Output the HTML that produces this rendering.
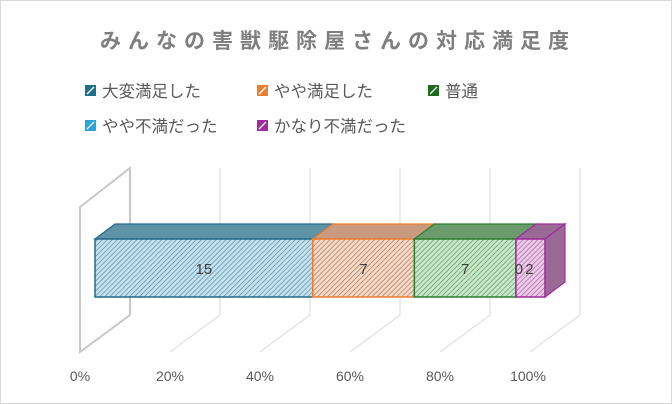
<!DOCTYPE html>
<html><head><meta charset="utf-8"><style>
body{margin:0;background:#fff}
svg{display:block;font-family:"Liberation Sans","Noto Sans CJK JP",sans-serif}
</style></head><body>
<svg width="672" height="404" viewBox="0 0 672 404">
<defs>
<pattern id="hatch" width="3.5" height="3.5" patternUnits="userSpaceOnUse" patternTransform="rotate(45)">
<line x1="0" y1="0" x2="0" y2="3.5" stroke="#000" stroke-width="1.3"/>
</pattern>
</defs>
<rect x="0.5" y="0.5" width="671" height="403" fill="#fff" stroke="#d9d9d9"/>
<text x="338" y="48" text-anchor="middle" font-size="21" font-weight="bold" fill="#7f7f7f" letter-spacing="7">みんなの害獣駆除屋さんの対応満足度</text>
<g id="legend"></g>
<g id="grid"></g>
<g id="bars"></g>
<g id="ticks"></g>
</svg>
<script>
const categories=["大変満足した","やや満足した","普通","やや不満だった","かなり不満だった"];
const values=[15,7,7,0,2];
const tickLabels=["0%","20%","40%","60%","80%","100%"];
const strokes=["#24698a","#ed7d31","#2e7d32","#1a9bd0","#a02b9c"];
const fronts=["#bfe4f4","#fbd8c2","#c5ecc5","#bfe4f4","#f3c8ef"];
const tops=["#5f93a8","#c99a80","#6b9a6b","#5f93a8","#9a6a96"];
const NS="http://www.w3.org/2000/svg";
function mk(p,t,a){const e=document.createElementNS(NS,t);for(const k in a)e.setAttribute(k,a[k]);p.appendChild(e);return e;}
const fx0=95,fw=450,barTop=239,barBot=297,ddx=20,ddy=-15;
function xFront(p){return fx0+p*fw;}
const g=document.getElementById('grid');
const wall=mk(g,'polygon',{points:"80,207 130,168 130,315 80,352",fill:"none",stroke:"#c8c8c8","stroke-width":2});


const tk=document.getElementById('ticks');
tickLabels.forEach((t,i)=>{
 const bx=130+i*90;
 if(i>0){
  const l=mk(g,'polyline',{points:`${bx},168 ${bx},315 ${bx-50},352`,fill:"none",stroke:"#d9d9d9","stroke-width":1});
  
  
 }
 const tx=mk(tk,'text',{x:bx-50+(i==5?-2:0),y:381,"text-anchor":"middle","font-size":14,fill:"#595959"});
 tx.textContent=t;
 
 
});
const total=values.reduce((a,b)=>a+b,0);
const bg=document.getElementById('bars');
let cum=0;
const segs=[];
values.forEach((v,i)=>{
 const x0=xFront(cum/total),x1=xFront((cum+v)/total);cum+=v;
 segs.push([x0,x1,i]);
});
segs.forEach(([x0,x1,i])=>{
 const s=mk(bg,'g',{});
 
 
 const top=`${x0},${barTop} ${x0+ddx},${barTop+ddy} ${x1+ddx},${barTop+ddy} ${x1},${barTop}`;
 mk(s,'polygon',{points:top,fill:tops[i],stroke:strokes[i],"stroke-width":1.2});
 mk(s,'rect',{x:x0,y:barTop,width:x1-x0,height:barBot-barTop,fill:fronts[i]});
 mk(s,'rect',{x:x0,y:barTop,width:x1-x0,height:barBot-barTop,fill:"url(#hatch)",opacity:0.45});
 mk(s,'rect',{x:x0,y:barTop,width:x1-x0,height:barBot-barTop,fill:"none",stroke:strokes[i],"stroke-width":1.5});
});
const last=segs[segs.length-1];
const side=mk(bg,'polygon',{points:`${last[1]},${barTop} ${last[1]+ddx},${barTop+ddy} ${last[1]+ddx},${barBot+ddy} ${last[1]},${barBot}`,fill:tops[last[2]],stroke:strokes[last[2]],"stroke-width":1.2});


segs.forEach(([x0,x1,i])=>{
 let cx=(x0+x1)/2;
 if(values[i]===0)cx+=3; else if(i===4)cx-=1;
 const t=mk(bg,'text',{x:cx,y:274,"text-anchor":"middle","font-size":15,fill:"#404040"});
 t.textContent=values[i];
 
 
});
const lg=document.getElementById('legend');
const lpos=[[85,91],[257,91],[428,91],[85,126],[257,126]];
const lcol=["#1f6f8b","#ed7d31","#1e6b1e","#29a6d8","#a02b9c"];
categories.forEach((c,i)=>{
 const [x,y]=lpos[i];
 const e=mk(lg,'g',{});
 
 
 mk(e,'rect',{x:x,y:y-6,width:11,height:11,fill:lcol[i]});
 mk(e,'line',{x1:x+2,y1:y+3,x2:x+9,y2:y-4,stroke:"#fff","stroke-width":1.3});
 const t=mk(e,'text',{x:x+17,y:y+6,"font-size":16.5,fill:"#595959"});
 t.textContent=c;
});
</script>
</body></html>
